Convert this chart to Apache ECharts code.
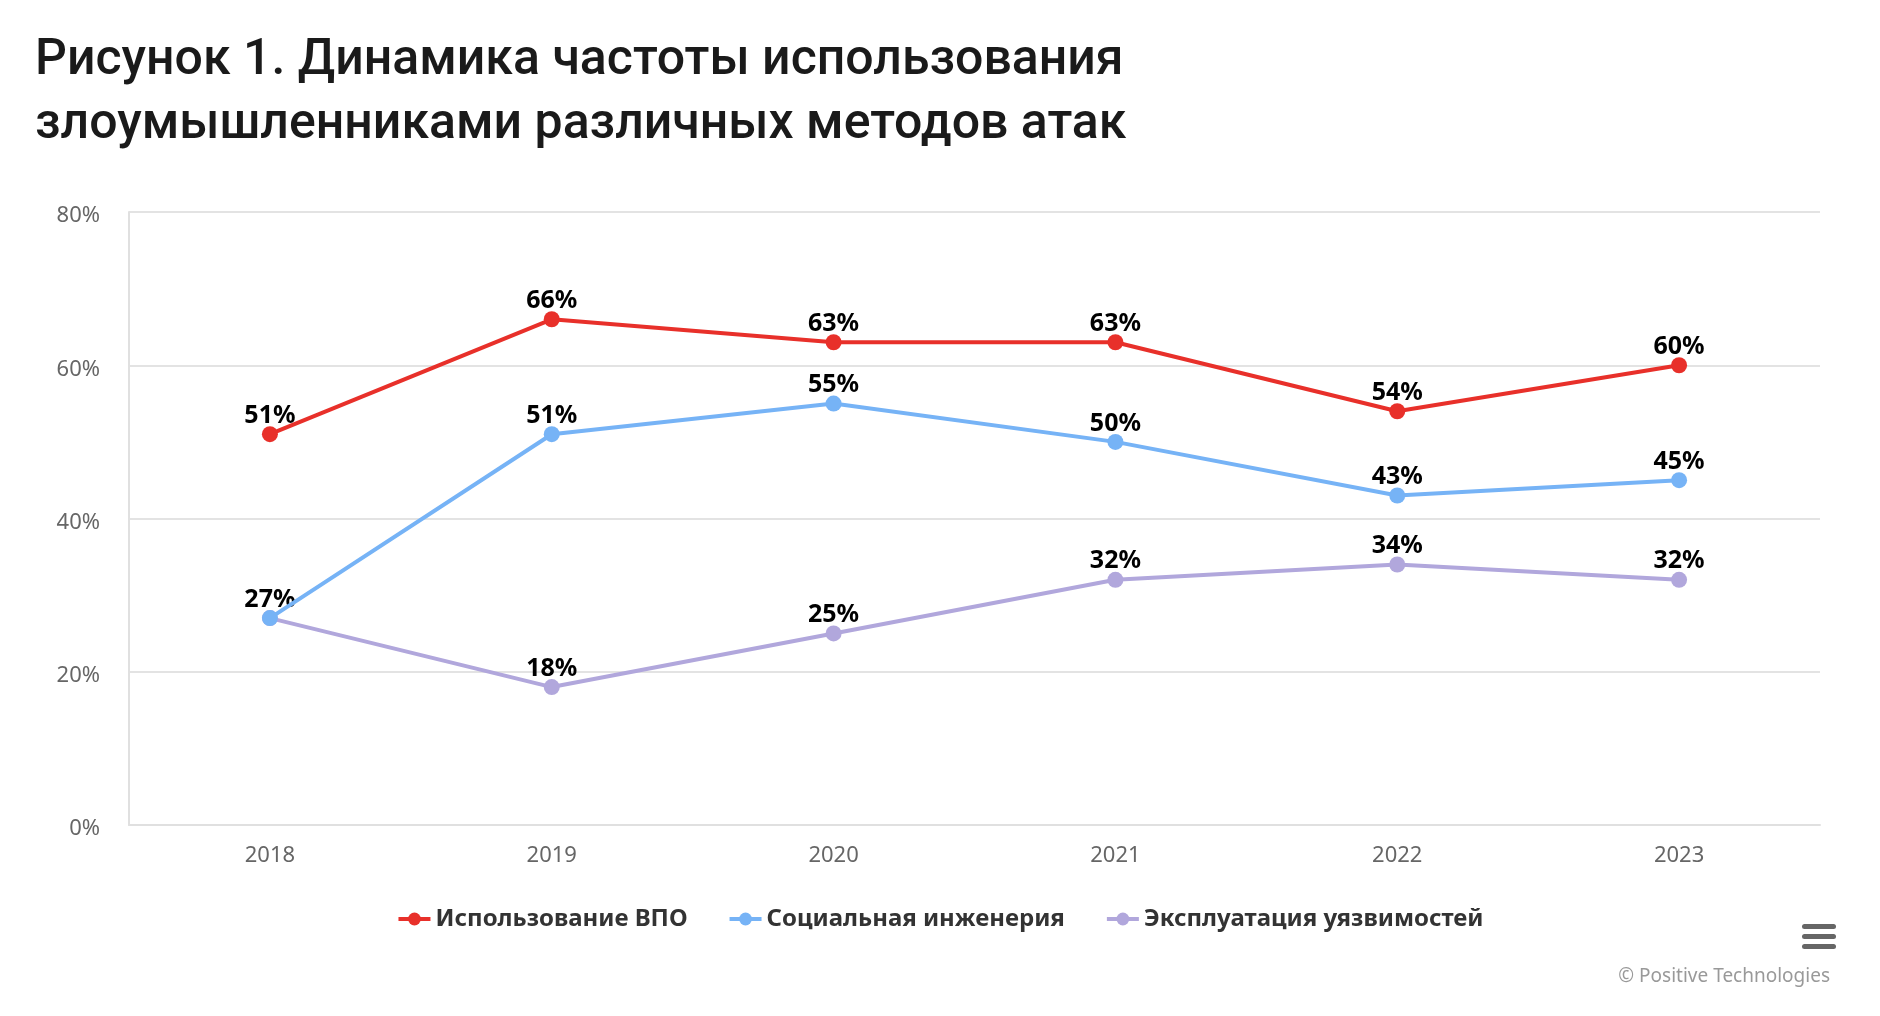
<!DOCTYPE html>
<html>
<head>
<meta charset="utf-8">
<script src="https://cdn.jsdelivr.net/npm/echarts@6/dist/echarts.min.js"></script>
<style>
html,body{margin:0;padding:0;background:#fff;}
#chart{width:1880px;height:1016px;}
</style>
</head>
<body>
<div id="chart"></div>
<script>
const categories = ['2018', '2019', '2020', '2021', '2022', '2023'];
const seriesNames = ['Использование ВПО', 'Социальная инженерия', 'Эксплуатация уязвимостей'];
const malware = [51, 66, 63, 63, 54, 60];
const social = [27, 51, 55, 50, 43, 45];
const exploit = [27, 18, 25, 32, 34, 32];
const yTicks = [0, 20, 40, 60, 80];
const colors = ['#e8302a', '#76b3f6', '#b1a7dc'];

const chart = echarts.init(document.getElementById('chart'));
const allSeries = [malware, social, exploit];

function buildData(vals, idx) {
  // hide a label if a later series has the same value at the same point (overlap)
  return vals.map((v, i) => {
    let hidden = false;
    for (let j = idx + 1; j < allSeries.length; j++) {
      if (allSeries[j][i] === v) hidden = true;
    }
    return hidden ? { value: v, label: { show: false } } : v;
  });
}

const series = allSeries.map((vals, idx) => ({
  name: seriesNames[idx],
  type: 'line',
  data: buildData(vals, idx),
  symbol: 'circle',
  symbolSize: 16,
  z: 10 - idx,
  lineStyle: { width: 4, color: colors[idx] },
  itemStyle: { color: colors[idx] },
  label: {
    show: true,
    position: 'top',
    distance: -2,
    formatter: '{c}%',
    fontFamily: 'Noto Sans',
    fontWeight: 'bold',
    fontSize: 25,
    color: '#000'
  },
  emphasis: { disabled: true }
}));

chart.setOption({
  backgroundColor: '#fff',
  animation: false,
  color: colors,
  title: {
    text: 'Рисунок 1. Динамика частоты использования\nзлоумышленниками различных методов атак',
    left: 30,
    top: 24,
    textStyle: {
      fontFamily: 'Roboto',
      fontWeight: 500,
      fontSize: 50,
      lineHeight: 64,
      color: '#1a1a1a'
    }
  },
  grid: { left: 129, right: 60, top: 212, bottom: 191, containLabel: false },
  legend: {
    bottom: 80,
    left: 'center',
    itemWidth: 32,
    itemHeight: 16,
    itemGap: 40,
    lineStyle: { width: 4 },
    textStyle: {
      fontFamily: 'Noto Sans',
      fontWeight: 'bold',
      fontSize: 24,
      color: '#333'
    },
    data: seriesNames
  },
  xAxis: {
    type: 'category',
    data: categories,
    boundaryGap: true,
    axisLine: { show: true, lineStyle: { color: '#e0e0e0', width: 2 } },
    axisTick: { show: false },
    axisLabel: {
      fontFamily: 'Noto Sans',
      fontSize: 22,
      color: '#666',
      margin: 20
    }
  },
  yAxis: {
    type: 'value',
    min: 0,
    max: 80,
    interval: 20,
    axisLine: { show: true, lineStyle: { color: '#e0e0e0', width: 2 } },
    axisTick: { show: false },
    splitLine: { show: true, lineStyle: { color: '#e3e3e3', width: 2 } },
    axisLabel: {
      fontFamily: 'Noto Sans',
      fontSize: 22,
      color: '#666',
      margin: 29,
      verticalAlign: 'top',
      lineHeight: 8,
      formatter: v => yTicks.includes(v) ? v + '%' : ''
    }
  },
  graphic: [
    {
      type: 'text',
      right: 50,
      top: 967,
      style: {
        text: '© Positive Technologies',
        fontFamily: 'Noto Sans',
        fontSize: 19,
        fill: '#999'
      }
    },
    { type: 'rect', shape: { x: 1802, y: 924, width: 34, height: 5, r: 2.5 }, style: { fill: '#666' } },
    { type: 'rect', shape: { x: 1802, y: 934, width: 34, height: 5, r: 2.5 }, style: { fill: '#666' } },
    { type: 'rect', shape: { x: 1802, y: 944, width: 34, height: 5, r: 2.5 }, style: { fill: '#666' } }
  ],
  series: series
});
</script>
</body>
</html>
